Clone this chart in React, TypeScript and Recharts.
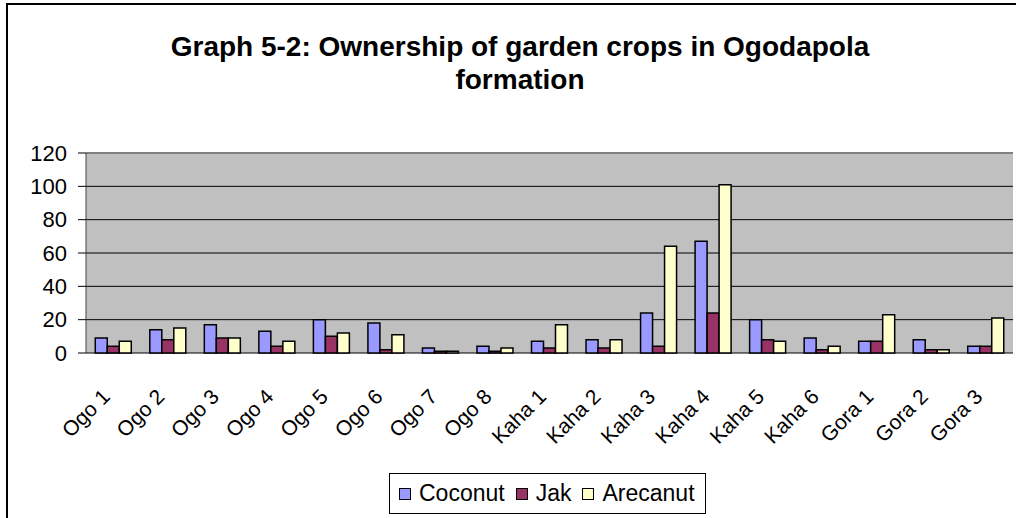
import React from 'react';
import { BarChart, Bar, XAxis, YAxis, CartesianGrid, ReferenceLine } from 'recharts';

// values
const categories = ['Ogo 1', 'Ogo 2', 'Ogo 3', 'Ogo 4', 'Ogo 5', 'Ogo 6', 'Ogo 7', 'Ogo 8',
  'Kaha 1', 'Kaha 2', 'Kaha 3', 'Kaha 4', 'Kaha 5', 'Kaha 6', 'Gora 1', 'Gora 2', 'Gora 3'];
const coconut = [9, 14, 17, 13, 20, 18, 3, 4, 7, 8, 24, 67, 20, 9, 7, 8, 4];
const jak = [4, 8, 9, 4, 10, 2, 1, 1, 3, 3, 4, 24, 8, 2, 7, 2, 4];
const arecanut = [7, 15, 9, 7, 12, 11, 1, 3, 17, 8, 64, 101, 7, 4, 23, 2, 21];
const yTicks = [0, 20, 40, 60, 80, 100, 120];

const series = [
  { key: 'Coconut', color: '#9999FF' },
  { key: 'Jak', color: '#993366' },
  { key: 'Arecanut', color: '#FFFFCC' },
];

const data = categories.map((name, i) => ({
  name,
  Coconut: coconut[i],
  Jak: jak[i],
  Arecanut: arecanut[i],
}));

// tick marks sit on the category boundaries, so they come from a hidden numeric axis
const boundaryTicks = [...categories.map((_, i) => i), categories.length];

const FONT = '"Liberation Sans", Arial, sans-serif';

const XTick = ({ x, y, payload }: any) => {
  const tx = x - 2;
  const ty = y + 45;
  return (
    <text x={tx} y={ty} transform={`rotate(-45 ${tx} ${ty})`} textAnchor="end"
      fontSize={21} fontFamily={FONT} fill="#000">
      {payload.value}
    </text>
  );
};

const App: React.FC = () => {
  return (
    <div style={{ position: 'absolute', left: 0, top: 0, width: 1016, height: 518, background: '#fff', overflow: 'hidden', fontFamily: FONT }}>
      {/* outer chart frame (runs past the right and bottom edges) */}
      <div style={{ position: 'absolute', left: 6, top: 3, width: 1100, height: 600, borderLeft: '2px solid #000', borderTop: '2px solid #000' }} />

      <div style={{ position: 'absolute', left: 0, top: 30, width: 1040, textAlign: 'center', fontSize: 28, fontWeight: 'bold', lineHeight: '33px', color: '#000' }}>
        Graph 5-2: Ownership of garden crops in Ogodapola<br />formation
      </div>

      <div style={{ position: 'absolute', left: 0, top: 0 }}>
        <BarChart width={1016} height={518} data={data}
          margin={{ top: 153, right: 3, bottom: 105, left: 26 }}
          barCategoryGap="17%" barGap={0}>
          <CartesianGrid vertical={false} stroke="#000" strokeWidth={1} fill="#C0C0C0" fillOpacity={1} />
          <XAxis xAxisId="grid" type="number" domain={[0, categories.length]} ticks={boundaryTicks}
            allowDataOverflow height={0} tick={false} tickSize={7}
            tickLine={{ stroke: '#000' }} axisLine={{ stroke: '#444' }} />
          <XAxis xAxisId="cat" dataKey="name" interval={0} height={60}
            tickLine={false} axisLine={false} tickSize={0} tickMargin={0} tick={<XTick />} />
          <YAxis domain={[0, 120]} ticks={yTicks} width={60} tickSize={8} tickMargin={11}
            interval={0} axisLine={{ stroke: '#444' }} tickLine={{ stroke: '#000' }}
            tick={{ fontSize: 22, fontFamily: FONT, fill: '#000' }} />
          <YAxis yAxisId="right" orientation="right" domain={[0, 120]} width={0}
            tick={false} tickLine={false} axisLine={{ stroke: '#808080', strokeWidth: 2 }} />
          {series.map(s => (
            <Bar key={s.key} xAxisId="cat" dataKey={s.key} fill={s.color}
              stroke="#000" strokeWidth={1.5} isAnimationActive={false} />
          ))}
          <ReferenceLine xAxisId="cat" y={120} stroke="#808080" strokeWidth={2} />
        </BarChart>
      </div>

      {/* legend */}
      <div style={{ position: 'absolute', left: 389, top: 473, width: 317, height: 41, boxSizing: 'border-box', border: '1px solid #000', background: '#fff', display: 'flex', alignItems: 'center', paddingLeft: 9 }}>
        {series.map(s => (
          <div key={s.key} style={{ display: 'flex', alignItems: 'center', marginRight: 11 }}>
            <div style={{ width: 10, height: 10, background: s.color, border: '1.5px solid #000', marginRight: 8 }} />
            <span style={{ fontSize: 23, color: '#000' }}>{s.key}</span>
          </div>
        ))}
      </div>
    </div>
  );
};

export default App;
